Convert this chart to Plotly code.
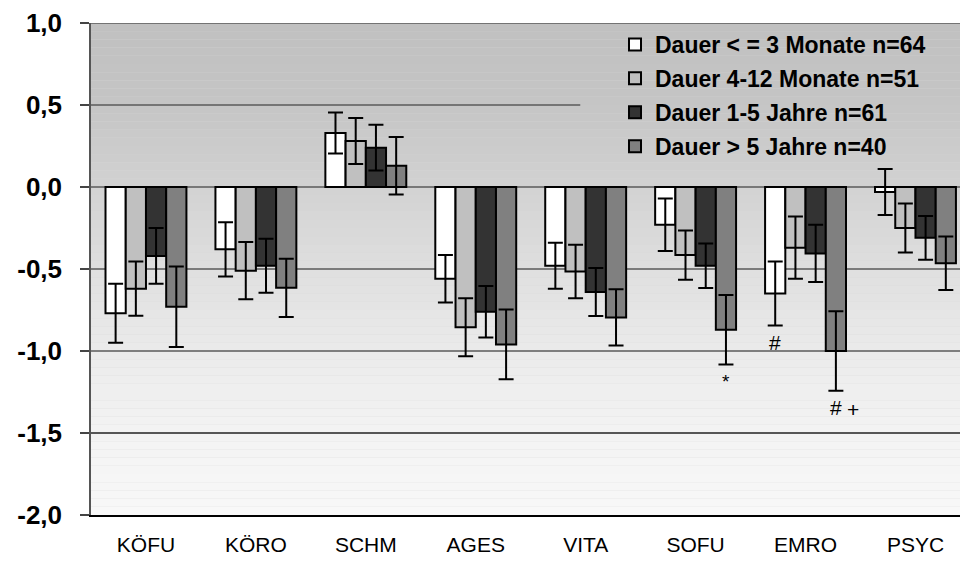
import numpy as np
import plotly.graph_objects as go

categories = ["KÖFU", "KÖRO", "SCHM", "AGES", "VITA", "SOFU", "EMRO", "PSYC"]
series_names = ["Dauer < = 3 Monate n=64", "Dauer 4-12 Monate n=51",
                "Dauer 1-5 Jahre n=61", "Dauer > 5 Jahre n=40"]
d1 = [-0.77, -0.38, 0.33, -0.56, -0.48, -0.23, -0.65, -0.03]
e1 = [0.18, 0.165, 0.125, 0.145, 0.14, 0.16, 0.195, 0.14]
d2 = [-0.62, -0.51, 0.28, -0.855, -0.515, -0.415, -0.37, -0.25]
e2 = [0.165, 0.175, 0.14, 0.177, 0.163, 0.15, 0.19, 0.15]
d3 = [-0.42, -0.48, 0.24, -0.76, -0.64, -0.48, -0.405, -0.31]
e3 = [0.17, 0.165, 0.14, 0.157, 0.146, 0.136, 0.175, 0.133]
d4 = [-0.73, -0.615, 0.13, -0.96, -0.795, -0.87, -1.0, -0.465]
e4 = [0.245, 0.177, 0.175, 0.213, 0.171, 0.212, 0.243, 0.163]
colors = ["#ffffff", "#c0c0c0", "#333333", "#808080"]
ytick_vals = [1.0, 0.5, 0.0, -0.5, -1.0, -1.5, -2.0]
ytick_text = ["1,0", "0,5", "0,0", "-0,5", "-1,0", "-1,5", "-2,0"]
# significance marks: (category, series index, text)
marks = [("SOFU", 3, "*"), ("EMRO", 0, "#"), ("EMRO", 3, "#"), ("EMRO", 3, "+")]

values = [d1, d2, d3, d4]
errors = [e1, e2, e3, e4]

fig = go.Figure()
for i in range(4):
    fig.add_trace(go.Bar(
        x=categories, y=values[i], name=series_names[i],
        legendgroup=f"g{i}",
        marker=dict(color=colors[i], line=dict(color="#000000", width=2)),
        error_y=dict(type="data", array=errors[i], visible=True,
                     color="#000000", thickness=2, width=7.5),
    ))

# background gradient strips
grad_y = [1.0, 0.5, 0.0, -0.5, -1.0, -1.5, -2.0]
grad_c = [192, 197, 210, 223, 235, 243, 248]
shapes = []
edges = np.linspace(-2, 1, 61)
for a, b in zip(edges[:-1], edges[1:]):
    mid = (a + b) / 2
    c = int(round(np.interp(mid, grad_y[::-1], grad_c[::-1])))
    shapes.append(dict(type="rect", xref="x domain", yref="y", x0=0, x1=1,
                       y0=a, y1=b, fillcolor=f"rgb({c},{c},{c})",
                       line=dict(width=0), layer="below"))
# gridlines
for v in ytick_vals[:-1]:
    x1 = 0.563 if v == 0.5 else 1
    col = "#222222" if v == -1.5 else "#5a5a5a"
    shapes.append(dict(type="line", xref="x domain", yref="y", x0=0, x1=x1,
                       y0=v, y1=v, line=dict(color=col, width=1.5), layer="below"))

nb = 4
bw = (1 - 0.264) / nb
annots = []
for cat, si, txt in marks:
    ci = categories.index(cat)
    xc = ci + (si - (nb - 1) / 2) * bw
    yv = values[si][ci] - errors[si][ci]
    xs = 17 if txt == "+" else 0
    annots.append(dict(x=xc, y=yv, xref="x", yref="y", text=txt, showarrow=False,
                       xshift=xs, yshift=-17 if txt != "+" else -19,
                       font=dict(family="Liberation Sans, Arial, sans-serif",
                                 size=21 if txt != "*" else 19, color="#000000")))

fig.update_layout(
    width=960, height=562,
    margin=dict(l=91, r=0, t=23, b=47),
    paper_bgcolor="#ffffff", plot_bgcolor="#d8d8d8",
    barmode="group", bargap=0.264, bargroupgap=0,
    shapes=shapes, annotations=annots,
    showlegend=True,
    legend=dict(x=0.603, y=1.0, xanchor="left", yanchor="top",
                bgcolor="rgba(0,0,0,0)", tracegroupgap=1,
                font=dict(family="Liberation Sans, Arial, sans-serif", size=23,
                          color="#000000", weight="bold")),
    font=dict(family="Liberation Sans, Arial, sans-serif", color="#000000"),
)
fig.update_xaxes(range=[-0.5, 7.405], showgrid=False, showline=True,
                 linecolor="#000000", linewidth=1.5, ticks="",
                 tickfont=dict(size=21, family="Liberation Sans, Arial, sans-serif"),
                 ticklabelstandoff=10, zeroline=False)
fig.update_yaxes(range=[-2, 1], tickvals=ytick_vals, ticktext=ytick_text,
                 showgrid=False, zeroline=False, showline=True,
                 linecolor="#555555", linewidth=1.5, ticks="outside",
                 ticklen=9, tickcolor="#444444", tickwidth=1.5,
                 ticklabelstandoff=13,
                 tickfont=dict(size=26, weight="bold",
                               family="Liberation Sans, Arial, sans-serif"))

fig.write_html("out.html")
